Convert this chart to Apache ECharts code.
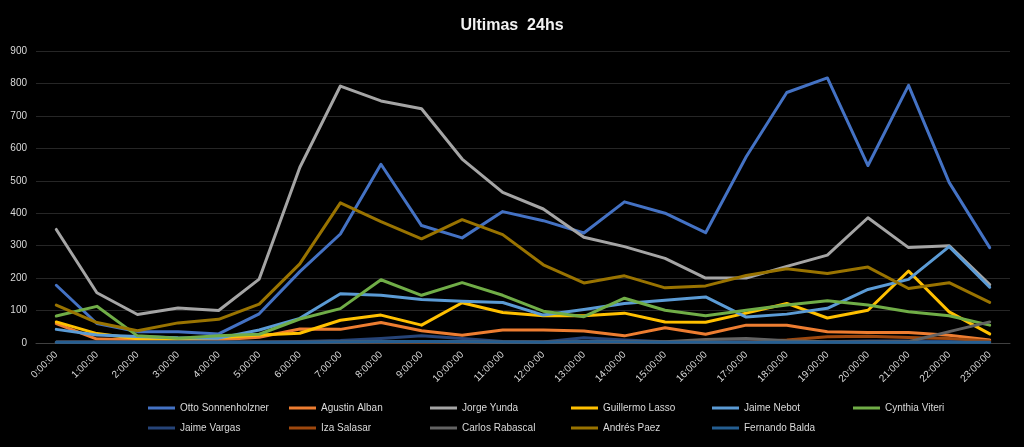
<!DOCTYPE html>
<html>
<head>
<meta charset="utf-8">
<script src="https://cdn.jsdelivr.net/npm/echarts@6/dist/echarts.min.js"></script>
<style>
html,body{margin:0;padding:0;background:#000;}
#c{width:1024px;height:447px;}
</style>
</head>
<body>
<div id="c"></div>
<script>
const categories = ['0:00:00','1:00:00','2:00:00','3:00:00','4:00:00','5:00:00','6:00:00','7:00:00','8:00:00','9:00:00','10:00:00','11:00:00','12:00:00','13:00:00','14:00:00','15:00:00','16:00:00','17:00:00','18:00:00','19:00:00','20:00:00','21:00:00','22:00:00','23:00:00'];
const yTicks = [0,100,200,300,400,500,600,700,800,900];

const seriesNames = ['Otto Sonnenholzner','Agustin Alban','Jorge Yunda','Guillermo Lasso','Jaime Nebot','Cynthia Viteri','Jaime Vargas','Iza Salasar','Carlos Rabascal','Andrés Paez','Fernando Balda'];

const otto      = [178,60,35,35,28,90,220,336,551,362,324,405,377,339,435,400,340,574,772,817,547,794,495,294];
const agustin   = [60,12,10,10,10,18,43,42,63,38,24,40,40,37,22,47,27,55,55,35,32,32,24,9];
const jorge     = [350,155,88,108,100,197,541,792,746,722,567,464,413,326,297,261,200,200,236,271,386,294,300,180];
const guillermo = [65,29,13,12,16,25,30,70,86,55,124,94,84,84,92,65,64,92,122,77,101,222,96,28];
const nebot     = [42,25,20,16,15,40,76,152,147,134,129,125,86,103,122,132,142,80,89,107,165,196,297,172];
const cynthia   = [83,113,22,15,22,27,74,106,195,147,186,147,98,81,138,101,84,101,117,130,117,96,84,55];
const vargas    = [3,3,3,3,3,3,5,8,14,22,14,5,3,16,9,4,4,4,4,4,6,6,5,3];
const iza       = [2,2,2,2,2,2,2,2,3,3,3,2,2,2,2,2,2,2,9,19,21,17,14,6];
const carlos    = [2,2,2,2,2,2,2,4,5,5,5,3,3,5,5,4,11,14,7,4,4,4,35,65];
const andres    = [117,63,38,62,73,120,244,432,374,321,380,334,241,185,207,170,176,208,229,214,234,168,186,125];
const fernando  = [2,2,2,2,2,2,2,3,4,5,4,3,2,4,3,2,2,2,2,2,2,2,2,2];

const seriesData = [otto,agustin,jorge,guillermo,nebot,cynthia,vargas,iza,carlos,andres,fernando];
const colors = ['#4472C4','#ED7D31','#A5A5A5','#FFC000','#5B9BD5','#70AD47','#264478','#9E480E','#636363','#997300','#255E91'];

const chart = echarts.init(document.getElementById('c'));
const font = 'Liberation Sans, Arial, sans-serif';
function makeLegend(names, top){
  return {
    left:143,
    top:top,
    width:870,
    itemWidth:27,
    itemHeight:3,
    itemGap:3,
    icon:'rect',
    data: names,
    formatter: '{a|{name}}',
    textStyle:{
      color:'#D9D9D9',fontFamily:font,fontSize:10,width:106,
      rich:{a:{width:106,lineHeight:13,color:'#D9D9D9',fontSize:10,fontFamily:font}}
    }
  };
}
chart.setOption({
  backgroundColor:'#000000',
  animation:false,
  color: colors,
  title:{
    text:'Ultimas  24hs',
    left:'center',
    top:13,
    textStyle:{color:'#F2F2F2',fontSize:16,fontWeight:'bold',fontFamily:font}
  },
  grid:{left:36,right:14,top:51,bottom:104,containLabel:false},
  legend:[makeLegend(seriesNames.slice(0,6),398), makeLegend(seriesNames.slice(6),418)],
  xAxis:{
    type:'category',
    data:categories,
    boundaryGap:true,
    axisLine:{show:true,lineStyle:{color:'#404040',width:1}},
    axisTick:{show:false},
    axisLabel:{color:'#D9D9D9',fontSize:10,fontFamily:font,rotate:45,interval:0,margin:10}
  },
  yAxis:{
    type:'value',
    min:yTicks[0],
    max:yTicks[yTicks.length-1],
    interval:100,
    axisLine:{show:false},
    axisTick:{show:false},
    splitLine:{lineStyle:{color:'#262626',width:1}},
    axisLabel:{color:'#D9D9D9',fontSize:10,fontFamily:font,margin:9}
  },
  series: seriesNames.map((n,i)=>({
    name:n,
    type:'line',
    data:seriesData[i],
    showSymbol:false,
    symbol:'none',
    lineStyle:{width:3,color:colors[i],cap:'round',join:'round'},
    itemStyle:{color:colors[i]}
  }))
});
</script>
</body>
</html>
